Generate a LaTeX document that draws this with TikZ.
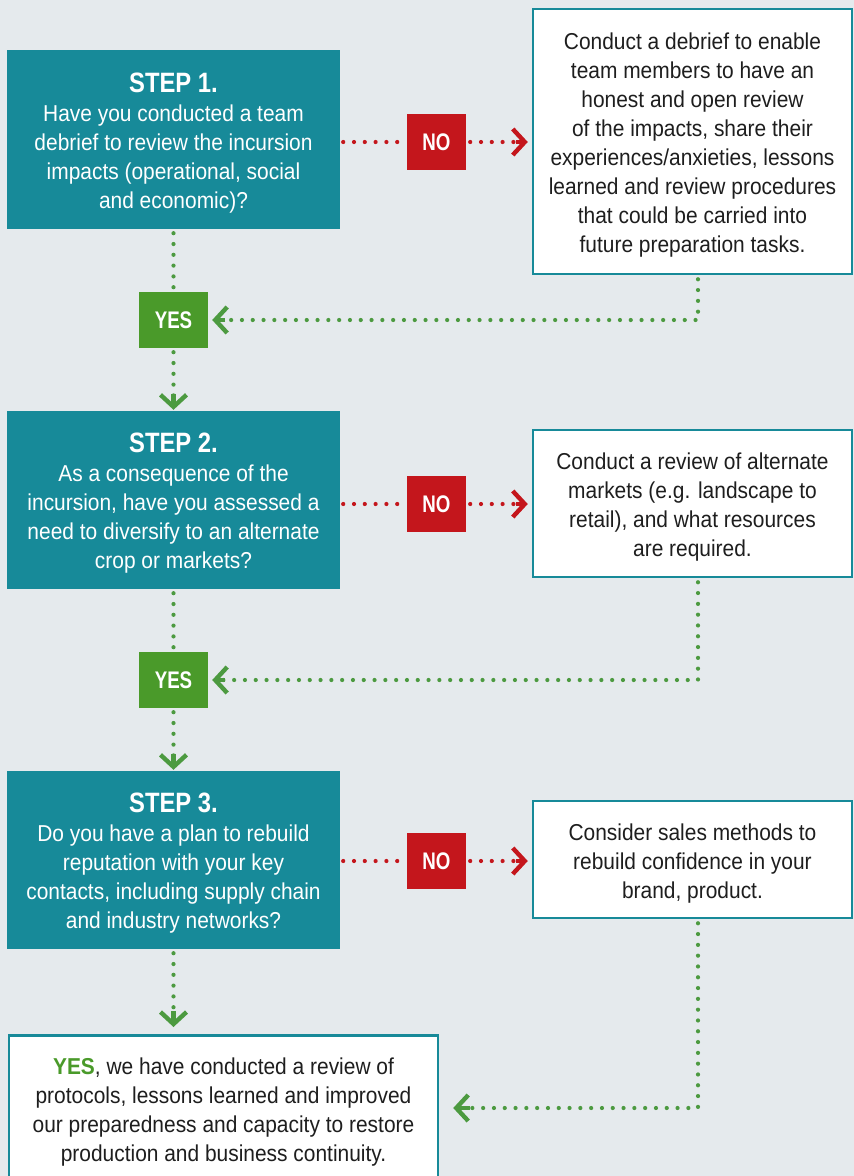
\documentclass[tikz,border=0pt]{standalone}
\usepackage{fontspec}
\setmainfont{Liberation Sans}[FakeStretch=0.91]
\newfontfamily\headfont{Liberation Sans}[FakeStretch=0.85]
\newfontfamily\tagfont{Liberation Sans}[FakeStretch=0.78]
\usetikzlibrary{arrows.meta}
\definecolor{bg}{HTML}{E5EAED}
\definecolor{tealbox}{HTML}{178A99}
\definecolor{nored}{HTML}{C4161C}
\definecolor{yesgreen}{HTML}{4A9A2A}
\definecolor{dotgreen}{HTML}{4C9A40}
\definecolor{txt}{HTML}{1E1E1E}
\tikzset{
  stepbox/.style={fill=tealbox, text=white, align=center, inner sep=0pt,
    minimum width=333pt, minimum height=178pt, font=\fontsize{23}{29}\selectfont},
  infobox/.style={fill=white, draw=tealbox, line width=2.5pt, text=txt, align=center,
    inner sep=0pt, minimum width=319pt, font=\fontsize{23}{29}\selectfont},
  nobox/.style={fill=nored, text=white, minimum width=59pt, minimum height=56pt,
    inner sep=0pt, font=\tagfont\fontsize{24}{26}\selectfont\bfseries},
  yesbox/.style={fill=yesgreen, text=white, minimum width=69pt, minimum height=56pt,
    inner sep=0pt, font=\tagfont\fontsize{24}{26}\selectfont\bfseries},
  dots/.style={line width=4.2pt, line cap=round, dash pattern=on 0pt off 10.8pt},
  reddots/.style={dots, draw=nored},
  greendots/.style={dots, draw=dotgreen},
  chev/.style={-{Straight Barb[length=12pt, width=26pt, line width=4.4pt]}, line width=4.4pt}
}
\newcommand{\steph}[1]{{\headfont\fontsize{28}{30}\selectfont\bfseries\rule{0pt}{26pt}#1}}
\newcommand{\tstrut}{\rule{0pt}{24pt}}
\begin{document}
\begin{tikzpicture}[x=1pt, y=-1pt]
\fill[bg] (0,0) rectangle (854,1176);
\useasboundingbox (0,0) rectangle (854,1176);

% Step boxes
\node[stepbox, minimum height=179pt] (s1) at (173.5,139.5) {\steph{STEP 1.}\\Have you conducted a team\\debrief to review the incursion\\impacts (operational, social\\and economic)?};
\node[stepbox] (s2) at (173.5,500) {\steph{STEP 2.}\\As a consequence of the\\incursion, have you assessed a\\need to diversify to an alternate\\crop or markets?};
\node[stepbox] (s3) at (173.5,860) {\steph{STEP 3.}\\Do you have a plan to rebuild\\reputation with your key\\contacts, including supply chain\\and industry networks?};

% NO boxes
\node[nobox] (n1) at (436.5,142) {NO};
\node[nobox] (n2) at (436.5,504) {NO};
\node[nobox] (n3) at (436.5,861) {NO};

% YES boxes
\node[yesbox] (y1) at (173.5,320) {YES};
\node[yesbox] (y2) at (173.5,680) {YES};

% Info boxes
\node[infobox, minimum height=265pt] (w1) at (692.5,141.5) {\tstrut Conduct a debrief to enable\\team members to have an\\honest and open review\\of the impacts, share their\\experiences/anxieties, lessons\\learned and review procedures\\that could be carried into\\future preparation tasks.};
\node[infobox, minimum height=147pt] (w2) at (692.5,503.5) {\tstrut Conduct a review of alternate\\markets (e.g. landscape to\\retail), and what resources\\are required.};
\node[infobox, minimum height=117pt] (w3) at (692.5,859.5) {\tstrut Consider sales methods to\\rebuild confidence in your\\brand, product.};
\node[infobox, minimum width=429pt, minimum height=145pt] (fin) at (223.5,1108) {\tstrut{\color{yesgreen}\bfseries YES}, we have conducted a review of\\protocols, lessons learned and improved\\our preparedness and capacity to restore\\production and business continuity.};

% Corner and helper coordinates
\coordinate (c1) at (698,320);
\coordinate (c2) at (698,680);
\coordinate (c3) at (698,1108);
\coordinate (f0) at (173.5,1035);

% Red NO connectors
\draw[reddots, shorten <=3pt, shorten >=2pt] (s1.east |- n1.west) -- (n1.west);
\draw[reddots, shorten <=4pt] (n1.east) -- ([xshift=-13pt]w1.west |- n1.east);
\draw[chev, draw=nored, shorten >=4pt] ([xshift=-16pt]w1.west |- n1.east) -- (w1.west |- n1.east);
\draw[reddots, shorten <=3pt, shorten >=2pt] (s2.east |- n2.west) -- (n2.west);
\draw[reddots, shorten <=4pt] (n2.east) -- ([xshift=-13pt]w2.west |- n2.east);
\draw[chev, draw=nored, shorten >=4pt] ([xshift=-16pt]w2.west |- n2.east) -- (w2.west |- n2.east);
\draw[reddots, shorten <=3pt, shorten >=2pt] (s3.east |- n3.west) -- (n3.west);
\draw[reddots, shorten <=4pt] (n3.east) -- ([xshift=-13pt]w3.west |- n3.east);
\draw[chev, draw=nored, shorten >=4pt] ([xshift=-16pt]w3.west |- n3.east) -- (w3.west |- n3.east);

% Green YES connectors (down)
\draw[greendots, shorten <=4pt, shorten >=3pt] (s1.south) -- (y1.north);
\draw[greendots, shorten <=4pt] (y1.south) -- ([yshift=13pt]s2.north);
\draw[chev, draw=dotgreen, shorten >=1pt] ([yshift=17pt]s2.north) -- (s2.north);
\draw[greendots, shorten <=4pt, shorten >=3pt] (s2.south) -- (y2.north);
\draw[greendots, shorten <=4pt] (y2.south) -- ([yshift=13pt]s3.north);
\draw[chev, draw=dotgreen, shorten >=1pt] ([yshift=17pt]s3.north) -- (s3.north);
\draw[greendots, shorten <=4pt] (s3.south) -- ([yshift=20pt]f0);
\draw[chev, draw=dotgreen, shorten >=8pt] ([yshift=24pt]f0) -- (f0);

% Green return connectors
\draw[greendots, shorten <=4pt] (c1 |- w1.south) -- (c1) -- ([xshift=13pt]y1.east);
\draw[chev, draw=dotgreen, shorten >=4pt] ([xshift=17pt]y1.east) -- (y1.east);
\draw[greendots, shorten <=4pt] (c2 |- w2.south) -- (c2) -- ([xshift=13pt]y2.east);
\draw[chev, draw=dotgreen, shorten >=4pt] ([xshift=17pt]y2.east) -- (y2.east);
\draw[greendots, shorten <=4pt] (c3 |- w3.south) -- (c3) -- ([xshift=27pt]fin.east);
\draw[chev, draw=dotgreen, shorten >=14pt] ([xshift=31pt]fin.east) -- (fin.east);
\end{tikzpicture}
\end{document}
